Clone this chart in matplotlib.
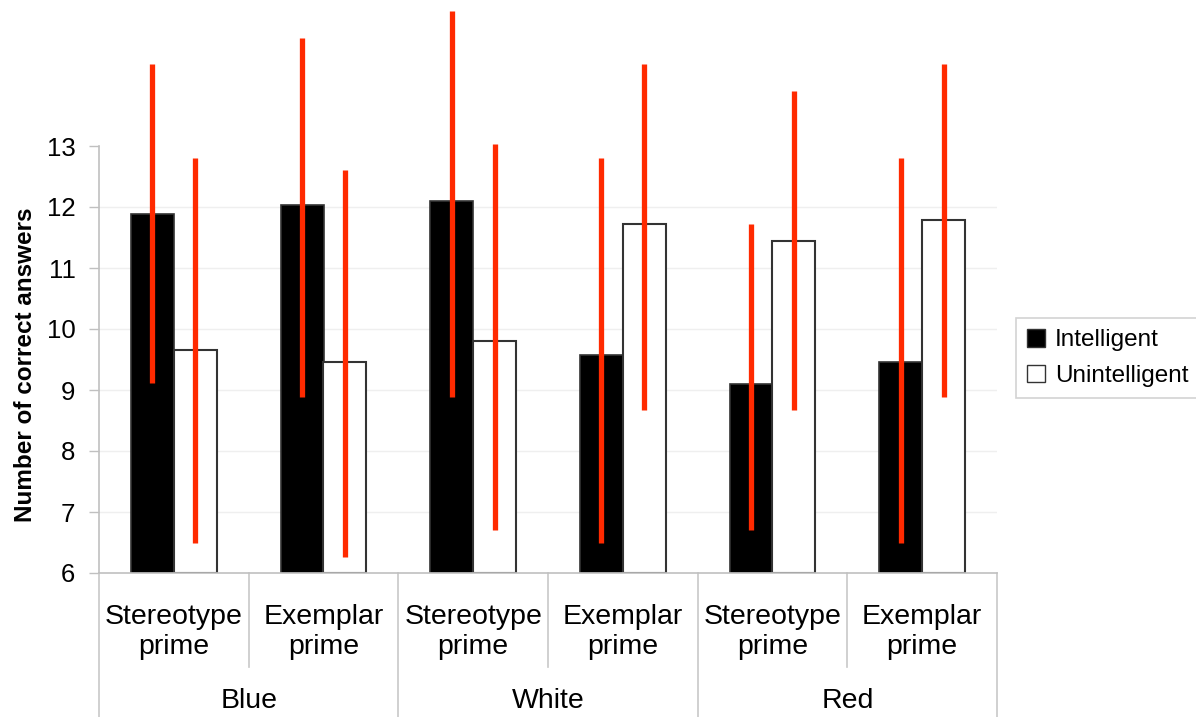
import matplotlib
matplotlib.use("Agg")
import matplotlib.pyplot as plt
from matplotlib.patches import Patch
from matplotlib.transforms import blended_transform_factory
import numpy as np

plt.rcParams['font.family'] = ['Liberation Sans', 'DejaVu Sans']

# ---- data ----
groups = ["Blue", "White", "Red"]
primes = ["Stereotype\nprime", "Exemplar\nprime"] * 3
series = ["Intelligent", "Unintelligent"]
intelligent = [11.88, 12.04, 12.10, 9.58, 9.10, 9.46]
unintelligent = [9.65, 9.46, 9.80, 11.72, 11.44, 11.79]
# error bar endpoints (low, high)
int_err_low = [9.11, 8.89, 8.89, 6.49, 6.70, 6.49]
int_err_high = [14.35, 14.77, 15.21, 12.81, 11.72, 12.81]
unint_err_low = [6.49, 6.27, 6.70, 8.67, 8.67, 8.89]
unint_err_high = [12.81, 12.60, 13.03, 14.34, 13.90, 14.34]
yticks = [6, 7, 8, 9, 10, 11, 12, 13]

W, H = 1196, 717
fig = plt.figure(figsize=(W / 100, H / 100), dpi=100)
ax = fig.add_axes([99 / W, (H - 573) / H, (997 - 99) / W, (573 - 146) / H])

x = np.arange(len(primes))
bw = 0.287
off = 0.143
ax.bar(x - off, np.array(intelligent) - 6, bw, bottom=6, color="black",
       edgecolor="#333333", linewidth=1.2, zorder=2)
ax.bar(x + off, np.array(unintelligent) - 6, bw, bottom=6, color="white",
       edgecolor="#333333", linewidth=1.5, zorder=2)

red = "#ff2a00"
ax.vlines(x - off, int_err_low, int_err_high, color=red, linewidth=3.8,
          zorder=3, clip_on=False)
ax.vlines(x + off, unint_err_low, unint_err_high, color=red, linewidth=3.8,
          zorder=3, clip_on=False)

ax.set_xlim(-0.5, len(primes) - 0.5)
ax.set_ylim(6, 13)
ax.set_yticks(yticks)
ax.tick_params(axis="y", labelsize=18.5, length=7, width=1, color="#c0c0c0", pad=10)
ax.set_xticks([])
for t in yticks[1:-1]:
    ax.axhline(t, color="#efefef", linewidth=1, zorder=0)

for s in ["top", "right"]:
    ax.spines[s].set_visible(False)
ax.spines["left"].set_color("#c0c0c0")
ax.spines["bottom"].set_color("#c0c0c0")
ax.spines["left"].set_linewidth(1.2)
ax.spines["bottom"].set_linewidth(1.2)

ax_h = 573 - 146
ax_w = 997 - 99
ax.set_ylabel("Number of correct answers", fontsize=17.5, fontweight="bold")
ax.yaxis.set_label_coords(-(99 - 26) / ax_w, (573 - 364.5) / ax_h)
ax.yaxis.label.set_va("center")

trans = blended_transform_factory(ax.transData, ax.transAxes)
for i, lab in enumerate(primes):
    ax.text(i, -(632 - 573) / ax_h, lab, transform=trans, ha="center",
            va="center", fontsize=20.5, linespacing=1.18)
for g, name in enumerate(groups):
    ax.text(2 * g + 0.5, -(701 - 573) / ax_h, name, transform=trans,
            ha="center", va="center", fontsize=20.5)

sep_color = "#c8c8c8"
for k in range(len(groups)):
    ax.plot([2 * k + 0.5] * 2, [0, -(667 - 573) / ax_h], transform=trans,
            color=sep_color, linewidth=1.2, clip_on=False)
for k in range(len(groups) + 1):
    ax.plot([2 * k - 0.5] * 2, [0, -(717 - 573) / ax_h], transform=trans,
            color=sep_color, linewidth=1.2, clip_on=False)

handles = [Patch(facecolor="black", edgecolor="#333333", label=series[0]),
           Patch(facecolor="white", edgecolor="#333333", label=series[1])]
leg = fig.legend(handles=handles, loc="upper left",
                 bbox_to_anchor=(1016 / W, 1 - 318 / H), fontsize=17.5,
                 frameon=True, fancybox=False, handlelength=0.75,
                 handleheight=0.75, handletextpad=0.4, borderpad=0.45,
                 labelspacing=0.55, borderaxespad=0)
leg.get_frame().set_edgecolor("#c8c8c8")
leg.get_frame().set_linewidth(1.2)

fig.savefig("out.png", dpi=100)
